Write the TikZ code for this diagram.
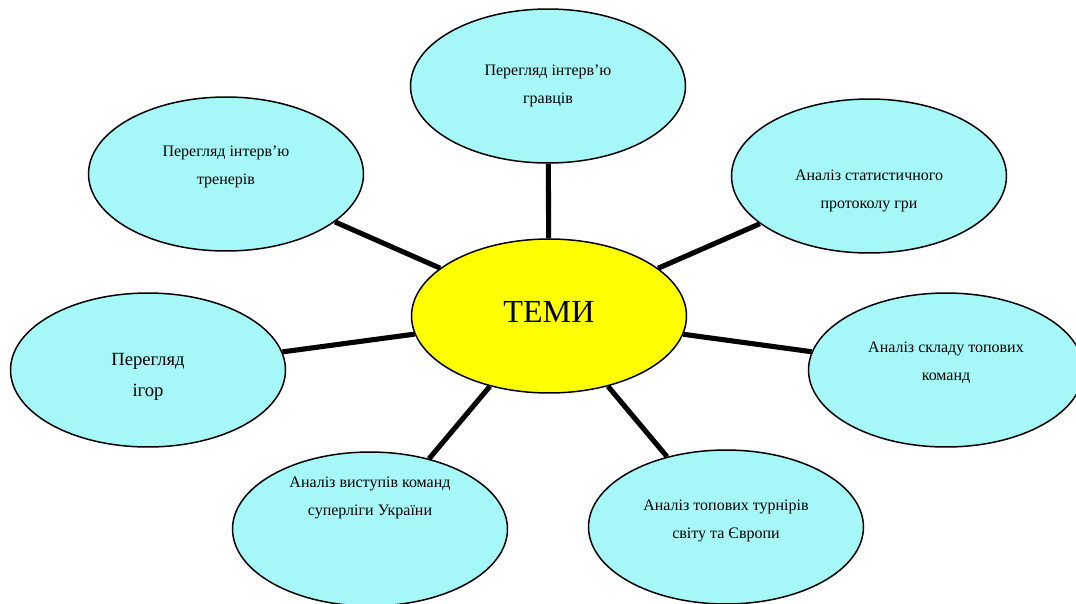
\documentclass[tikz,border=0pt]{standalone}
\usepackage{xcolor}
\usepackage{fontspec}
\setmainfont{Liberation Serif}
\usepackage{tikz}
\usetikzlibrary{shapes.geometric}

\definecolor{topiccyan}{HTML}{A6F8F8}
\definecolor{mainyellow}{HTML}{FFFF00}

\begin{document}
\begin{tikzpicture}[
    x=0.02cm,
    y=-0.02cm,
    topic/.style={
        ellipse,
        draw,
        line width=0.85pt,
        fill=topiccyan,
        minimum width=5.5cm,
        minimum height=3.08cm,
        inner sep=0pt
    },
    txt/.style={
        align=center,
        font=\fontsize{9.1}{16}\selectfont
    },
    link/.style={draw,line width=2.9pt}
]
\useasboundingbox (0,0) rectangle (1076,603);

\node[topic,fill=mainyellow] (temy) at (549,316)
  {};
\node[font=\fontsize{18.3}{20}\selectfont] (temyt) at (549,312) {ТЕМИ};

\node[topic] (gravtsi) at (548,86) {};
\node[topic] (trenery) at (226,174) {};
\node[topic] (protokol) at (869,176) {};
\node[topic] (igry) at (148,370) {};
\node[topic] (sklad) at (946,370) {};
\node[topic] (superliga) at (370,529) {};
\node[topic] (turniry) at (726,527) {};

% texts
\node[txt] (gravtsit) at (548,86) {Перегляд інтерв’ю\\гравців};
\node[txt] (treneryt) at (226,167) {Перегляд інтерв’ю\\тренерів};
\node[txt] (protokolt) at (869,191) {Аналіз статистичного\\протоколу гри};
\node[txt,font=\fontsize{10.6}{18}\selectfont] (igryt) at (148,377) {Перегляд\\ігор};
\node[txt] (skladt) at (946,363) {Аналіз складу топових\\команд};
\node[txt] (superligat) at (370,498) {Аналіз виступів команд\\суперліги України};
\node[txt] (turniryt) at (726,521) {Аналіз топових турнірів\\світу та Європи};

% links
\foreach \t in {gravtsi,trenery,protokol,igry,sklad,superliga,turniry}
  \draw[link] (temy) -- (\t);
\end{tikzpicture}
\end{document}
